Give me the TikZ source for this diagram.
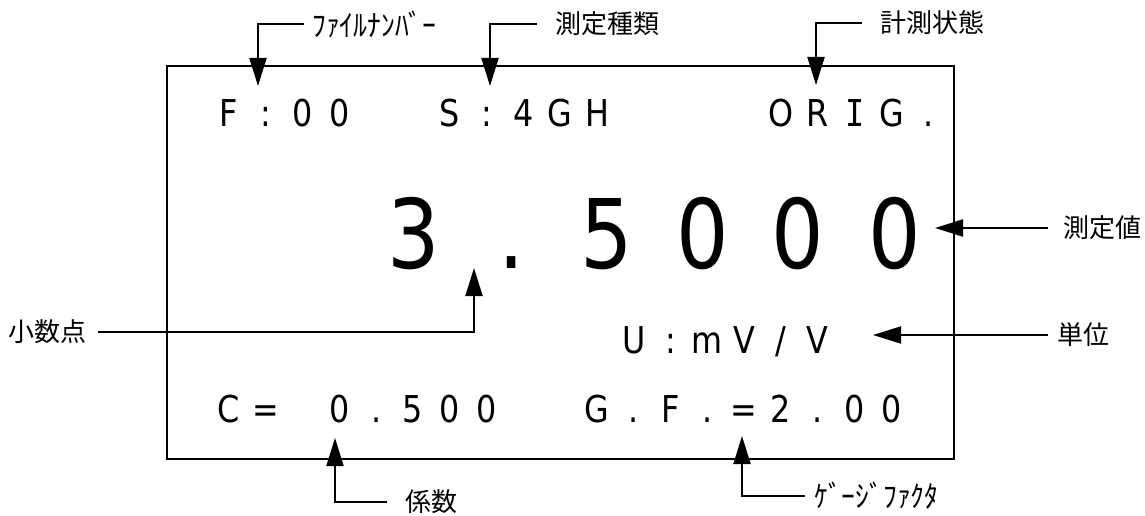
\documentclass[tikz,border=0pt]{standalone}
\usepackage{fontspec}
\setmainfont{DejaVu Sans}
\newfontfamily\disp[FakeStretch=0.86]{DejaVu Sans}
\newfontfamily\dispmono[FakeStretch=0.86]{DejaVu Sans Mono}
\newfontfamily\jp{Noto Sans CJK JP}
\newfontfamily\jph[FakeStretch=0.92]{Noto Sans CJK JP}
\usetikzlibrary{arrows.meta}
\newcommand\slashch{/}
\newcommand\Ich{{\dispmono I}}
\begin{document}
\begin{tikzpicture}[x=1pt,y=-1pt,
  small/.style={inner sep=0pt, anchor=base, font=\disp\fontsize{37}{37}\selectfont},
  big/.style={inner sep=0pt, anchor=base, font=\disp\fontsize{96}{96}\selectfont},
  lbl/.style={inner sep=0pt, anchor=west, font=\jp\fontsize{26}{26}\selectfont},
  hlbl/.style={inner sep=0pt, anchor=west, font=\jph\fontsize{30}{30}\selectfont},
  conn/.style={line width=2pt, -{Triangle[length=28pt,width=17pt]}},
  panelbox/.style={draw, line width=2pt, inner sep=0pt, anchor=north west}]
\useasboundingbox (0,0) rectangle (1145,516);
% display panel
\node[panelbox, minimum width=787pt, minimum height=393pt] (panel) at (166,65) {};
% row 1
\foreach \c/\ch in {0/F,1/:,2/0,3/0,6/S,7/:,8/4,9/G,10/H,15/O,16/R,17/\Ich,18/G,19/.}
  \node[small] (a\c) at ({229+36.8*\c},127) {\ch};
% measured value
\foreach \x/\ch [count=\i] in {414/3,512/.,607/5,703/0,798/0,895/0}
  \node[big] (d\i) at (\x,268) {\ch};
% unit row
\foreach \c/\ch in {11/U,12/:,13/m,14/V,15/\slashch,16/V}
  \node[small] (u\c) at ({229+36.8*\c},353) {\ch};
% bottom row
\foreach \c/\ch in {0/C,1/=,3/0,4/.,5/5,6/0,7/0,10/G,11/.,12/F,13/.,14/=,15/2,16/.,17/0,18/0}
  \node[small] (c\c) at ({229+36.8*\c},422) {\ch};
% labels
\node[hlbl] (lfile) at (312,24) {ﾌｧｲﾙﾅﾝﾊﾞｰ};
\node[lbl] (lkind) at (555,24) {測定種類};
\node[lbl] (lstat) at (880,23) {計測状態};
\node[lbl] (lval)  at (1063,228) {測定値};
\node[lbl] (lunit) at (1057,335) {単位};
\node[lbl] (ldp)   at (8,332) {小数点};
\node[lbl] (lcoef) at (405,502) {係数};
\node[hlbl] (lgf)  at (814,496) {ｹﾞｰｼﾞﾌｧｸﾀ};
% arrow tips
\coordinate (tfile) at (258,86);
\coordinate (tkind) at (490,86);
\coordinate (tstat) at (816,85);
\coordinate (tval)  at (935,228);
\coordinate (tunit) at (873,335);
\coordinate (tdp)   at (474,268);
\coordinate (tcoef) at (335,438);
\coordinate (tgf)   at (742,436);
% connectors
\draw[conn] ([xshift=-8pt]lfile.west) -| (tfile);
\draw[conn] ([xshift=-18pt]lkind.west) -| (tkind);
\draw[conn] ([xshift=-18pt]lstat.west) -| (tstat);
\draw[conn] ([xshift=-15pt]lval.west) -- (tval);
\draw[conn] ([xshift=-9pt]lunit.west) -- (tunit);
\draw[conn] ([xshift=12pt]ldp.east) -| (tdp);
\draw[conn] ([xshift=-18pt]lcoef.west) -| (tcoef);
\draw[conn] ([xshift=-9pt]lgf.west) -| (tgf);
\end{tikzpicture}
\end{document}
